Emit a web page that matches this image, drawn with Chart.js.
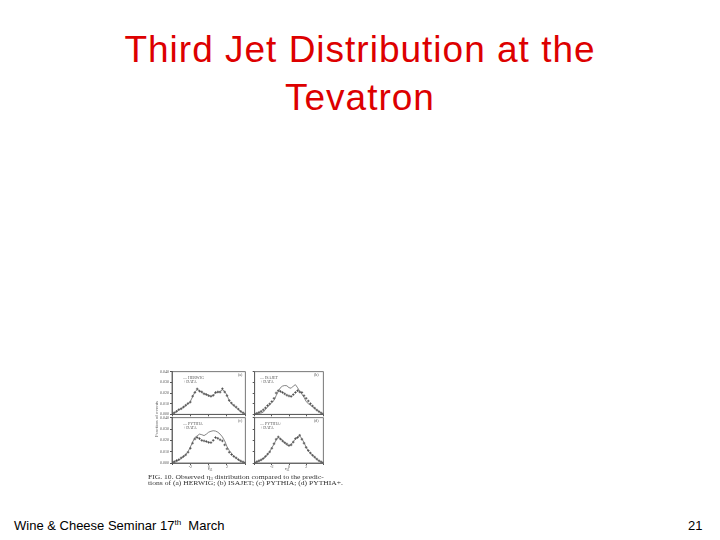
<!DOCTYPE html>
<html>
<head>
<meta charset="utf-8">
<script src="https://cdn.jsdelivr.net/npm/chart.js@4.4.0/dist/chart.umd.min.js"></script>
<style>
  html, body { margin:0; padding:0; background:#fff; }
  body { width:720px; height:540px; position:relative; overflow:hidden; font-family:"Liberation Sans", Arial, sans-serif; }
  .abs { position:absolute; white-space:nowrap; }
  .title { color:#dd0000; font-size:37px; letter-spacing:1px; left:0; width:720px; text-align:center; line-height:43px; }
  canvas { position:absolute; }
  .tiny { font-family:"Liberation Serif", serif; color:#555; font-size:4px; line-height:4px; }
  .sb { position:relative; top:1px; line-height:0; vertical-align:baseline; }
</style>
</head>
<body>
<div class="abs title" id="t1" style="top:28px;">Third Jet Distribution at the</div>
<div class="abs title" id="t2" style="top:76px;">Tevatron</div>

<canvas id="ca" width="100" height="52" style="left:150px; top:367px;"></canvas>
<canvas id="cb" width="78" height="52" style="left:250px; top:367px;"></canvas>
<canvas id="cc" width="100" height="56" style="left:150px; top:413px;"></canvas>
<canvas id="cd" width="78" height="56" style="left:250px; top:413px;"></canvas>

<div class="abs tiny" style="left:183px; top:376px;">— HERWIG<br>+ DATA</div>
<div class="abs tiny" style="left:260px; top:376px;">— ISAJET<br>+ DATA</div>
<div class="abs tiny" style="left:183px; top:422px;">— PYTHIA<br>+ DATA</div>
<div class="abs tiny" style="left:260px; top:422px;">— PYTHIA+<br>+ DATA</div>
<div class="abs tiny" style="left:238px; top:373px;">(a)</div>
<div class="abs tiny" style="left:314px; top:373px;">(b)</div>
<div class="abs tiny" style="left:238px; top:419px;">(c)</div>
<div class="abs tiny" style="left:314px; top:419px;">(d)</div>
<div class="abs tiny" style="left:208px; top:467px; font-size:5px;">η<span class="sb" style="font-size:3px">3</span></div>
<div class="abs tiny" style="left:285px; top:467px; font-size:5px;">η<span class="sb" style="font-size:3px">3</span></div>
<div class="abs tiny" style="left:139px; top:417px; font-size:5px; transform:rotate(-90deg); transform-origin:center;">Fraction of events</div>
<div class="abs tiny" id="cap" style="left:148px; top:474px; font-size:6px; line-height:6px; color:#333; transform-origin:0 0;">FIG. 10. Observed η<span class="sb" style="font-size:3.5px">3</span> distribution compared to the predic-<br>tions of (a) HERWIG; (b) ISAJET; (c) PYTHIA; (d) PYTHIA+.</div>

<div class="abs" style="left:14px; top:518px; font-size:13px; color:#000;">Wine &amp; Cheese Seminar 17<sup style="font-size:8px;">th</sup>&nbsp; March</div>
<div class="abs" style="left:688px; top:518px; font-size:13px; color:#000;">21</div>

<script>
// eta3 bin centres
const eta = [-4,-3.75,-3.5,-3.25,-3,-2.75,-2.5,-2.25,-2,-1.75,-1.5,-1.25,-1,-0.75,-0.5,-0.25,0,0.25,0.5,0.75,1,1.25,1.5,1.75,2,2.25,2.5,2.75,3,3.25,3.5,3.75,4];
const yTicks = [0, 0.01, 0.02, 0.03, 0.04];
const xTicks = [-4, -2, 0, 2, 4];
const panelNames = ["HERWIG", "ISAJET", "PYTHIA", "PYTHIA+"];

const herwigMC   = [0.0002,0.0012,0.0025,0.0040,0.0055,0.0065,0.0080,0.0098,0.0120,0.0165,0.0210,0.0232,0.0222,0.0205,0.0195,0.0190,0.0178,0.0165,0.0180,0.0200,0.0205,0.0215,0.0230,0.0215,0.0180,0.0125,0.0100,0.0080,0.0062,0.0045,0.0025,0.0012,0.0002];
const herwigData = [0.0004,0.0015,0.0028,0.0044,0.0052,0.0068,0.0085,0.0102,0.0115,0.0170,0.0205,0.0238,0.0218,0.0210,0.0192,0.0185,0.0175,0.0170,0.0178,0.0205,0.0210,0.0208,0.0240,0.0210,0.0175,0.0130,0.0105,0.0085,0.0068,0.0048,0.0028,0.0015,0.0004];

const isajetMC   = [0.0002,0.0006,0.0010,0.0012,0.0020,0.0045,0.0068,0.0090,0.0110,0.0130,0.0175,0.0215,0.0250,0.0265,0.0270,0.0268,0.0250,0.0245,0.0265,0.0278,0.0250,0.0215,0.0190,0.0160,0.0120,0.0100,0.0085,0.0072,0.0055,0.0040,0.0028,0.0012,0.0002];
const isajetData = [0.0004,0.0010,0.0018,0.0028,0.0042,0.0060,0.0082,0.0098,0.0120,0.0150,0.0200,0.0222,0.0215,0.0205,0.0192,0.0180,0.0172,0.0168,0.0185,0.0205,0.0222,0.0210,0.0205,0.0175,0.0150,0.0125,0.0100,0.0078,0.0058,0.0040,0.0025,0.0012,0.0004];

const pythiaMC   = [0.0002,0.0006,0.0012,0.0025,0.0040,0.0055,0.0075,0.0100,0.0140,0.0185,0.0225,0.0240,0.0255,0.0250,0.0242,0.0255,0.0272,0.0280,0.0285,0.0282,0.0272,0.0255,0.0230,0.0195,0.0145,0.0110,0.0085,0.0060,0.0042,0.0028,0.0015,0.0008,0.0002];
const pythiaData = [0.0004,0.0012,0.0022,0.0030,0.0045,0.0058,0.0072,0.0095,0.0130,0.0175,0.0212,0.0225,0.0215,0.0200,0.0195,0.0190,0.0182,0.0180,0.0200,0.0225,0.0218,0.0205,0.0195,0.0160,0.0125,0.0095,0.0075,0.0058,0.0045,0.0030,0.0018,0.0010,0.0004];

const pythiaPlusMC   = [0.0002,0.0008,0.0015,0.0025,0.0038,0.0055,0.0075,0.0100,0.0135,0.0165,0.0205,0.0225,0.0215,0.0200,0.0175,0.0160,0.0150,0.0165,0.0190,0.0210,0.0232,0.0240,0.0215,0.0180,0.0140,0.0105,0.0085,0.0070,0.0050,0.0032,0.0018,0.0008,0.0002];
const pythiaPlusData = [0.0004,0.0012,0.0020,0.0028,0.0040,0.0058,0.0078,0.0098,0.0130,0.0170,0.0210,0.0230,0.0212,0.0195,0.0180,0.0168,0.0155,0.0160,0.0185,0.0215,0.0225,0.0245,0.0210,0.0175,0.0138,0.0110,0.0088,0.0068,0.0052,0.0035,0.0020,0.0010,0.0004];

const INK = '#555';

const framePlugin = {
  id: 'frame',
  afterDraw(chart) {
    const a = chart.chartArea, ctx = chart.ctx;
    ctx.save();
    ctx.strokeStyle = INK; ctx.lineWidth = 0.8;
    ctx.strokeRect(a.left, a.top, a.right - a.left, a.bottom - a.top);
    ctx.restore();
  }
};

function pts(vals) { return eta.map((e, i) => ({ x: e, y: vals[i] })); }

function makePanel(id, name, mc, data, showYLabels, showXLabels) {
  new Chart(document.getElementById(id), {
    type: 'line',
    data: {
      datasets: [
        { label: name, data: pts(mc), borderColor: '#666', borderWidth: 0.8, pointRadius: 0, tension: 0, fill: false },
        { label: 'DATA', data: pts(data), showLine: false, pointStyle: 'cross', pointRadius: 1.3, pointBorderWidth: 0.7, borderColor: '#333', backgroundColor: '#333' }
      ]
    },
    options: {
      responsive: false, animation: false, devicePixelRatio: 1,
      layout: { padding: { top: 4, right: 1, bottom: 0, left: 0 } },
      plugins: { legend: { display: false }, tooltip: { enabled: false } },
      scales: {
        x: {
          type: 'linear', min: -4, max: 4,
          afterBuildTicks: s => { s.ticks = xTicks.map(v => ({ value: v })); },
          afterFit: s => { s.height = showXLabels ? 6 : 2; },
          grid: { drawOnChartArea: false, tickLength: 2, color: INK },
          border: { color: INK, width: 0.8 },
          ticks: {
            display: showXLabels, padding: 0, maxRotation: 0, autoSkip: false,
            font: { size: 4, family: 'Liberation Serif' }, color: INK,
            callback: v => (v === -2 || v === 0 || v === 2) ? String(v) : ''
          }
        },
        y: {
          min: 0, max: 0.04,
          afterBuildTicks: s => { s.ticks = yTicks.map(v => ({ value: v })); },
          afterFit: s => { s.width = showYLabels ? 22 : 0; },
          grid: { drawOnChartArea: false, tickLength: 2, color: INK },
          border: { color: INK, width: 0.8 },
          ticks: {
            display: showYLabels, padding: 1,
            font: { size: 4, family: 'Liberation Serif' }, color: INK,
            callback: v => v.toFixed(3)
          }
        }
      }
    },
    plugins: [framePlugin]
  });
}

makePanel('ca', panelNames[0], herwigMC, herwigData, true, false);
makePanel('cb', panelNames[1], isajetMC, isajetData, false, false);
makePanel('cc', panelNames[2], pythiaMC, pythiaData, true, true);
makePanel('cd', panelNames[3], pythiaPlusMC, pythiaPlusData, false, true);

// stretch the caption to the width of the figure (148..343)
const cap = document.getElementById('cap');
const w = cap.scrollWidth;
if (w > 0) cap.style.transform = 'scaleX(' + (195 / w).toFixed(3) + ')';
</script>
</body>
</html>
